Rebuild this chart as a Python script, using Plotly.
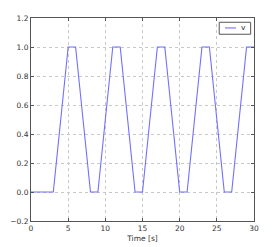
import plotly.graph_objects as go

time_s = [0, 3, 5, 6, 8, 9, 11, 12, 14, 15, 17, 18, 20, 21, 23, 24, 26, 27, 29, 30]
v_vals = [0, 0, 1, 1, 0, 0, 1, 1, 0, 0, 1, 1, 0, 0, 1, 1, 0, 0, 1, 1]
x_ticks = [0, 5, 10, 15, 20, 25, 30]
y_ticks = [-0.2, 0.0, 0.2, 0.4, 0.6, 0.8, 1.0, 1.2]
series_name = "v"
line_color = "#7070ff"

fig = go.Figure()
fig.add_trace(go.Scatter(x=time_s, y=v_vals, mode="lines", name=series_name,
                         showlegend=False,
                         line=dict(color=line_color, width=1.1)))

axis_common = dict(showline=True, linecolor="#555", linewidth=1, mirror="ticks",
                   showgrid=True, gridcolor="#c8c8c8", griddash="dot", gridwidth=1,
                   zeroline=False, ticks="inside", ticklen=3, tickcolor="#555",
                   automargin=False,
                   tickfont=dict(family="DejaVu Sans", size=7.5, color="#333"))

fig.update_xaxes(range=[0, 30], tickvals=x_ticks,
                 title=dict(text="Time [s]", font=dict(family="DejaVu Sans", size=7.5, color="#333"), standoff=3),
                 **axis_common)
fig.update_yaxes(range=[-0.2, 1.2], tickvals=y_ticks, tickformat=".1f", **axis_common)

# legend box (drawn manually, matplotlib style)
fig.add_shape(type="rect", xref="paper", yref="paper", x0=0.844, x1=0.985, y0=0.920, y1=0.979,
              line=dict(color="#555", width=1), fillcolor="white", layer="above")
fig.add_shape(type="line", xref="paper", yref="paper", x0=0.870, x1=0.919, y0=0.951, y1=0.951,
              line=dict(color=line_color, width=1.1), layer="above")
fig.add_annotation(xref="paper", yref="paper", x=0.955, y=0.951, text=series_name,
                   showarrow=False, xanchor="center", yanchor="middle",
                   font=dict(family="DejaVu Sans", size=7.5, color="#333"))

# page body has an 8px margin, so the figure is sized/offset to compensate
fig.update_layout(width=270, height=239,
                  margin=dict(l=23, r=24, t=10, b=26, pad=0),
                  plot_bgcolor="white", paper_bgcolor="white",
                  showlegend=False)

fig.write_html("out.html")
